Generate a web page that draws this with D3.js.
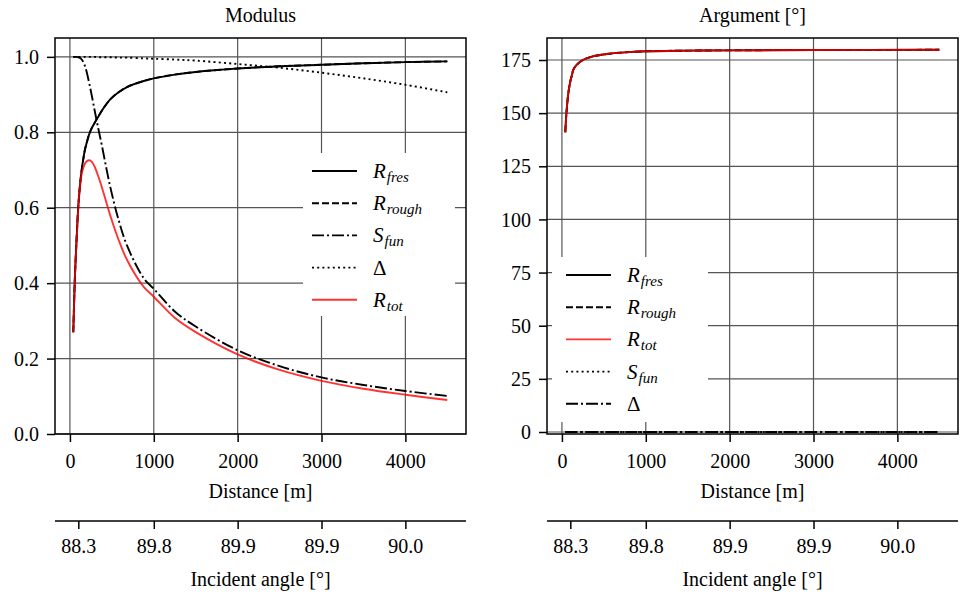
<!DOCTYPE html>
<html lang="en">
<head>
<meta charset="UTF-8">
<title>Modulus / Argument</title>
<script src="https://d3js.org/d3.v7.min.js"></script>
<style>
  body { margin: 0; background: #fff; }
  svg text { font-family: "Liberation Serif", "DejaVu Serif", "Noto Serif", "Times New Roman", Times, "FreeSerif", serif; fill: #000; }
  .tick text { font-size: 20px; }
  .tick line { stroke: #000; stroke-width: 1.5; }
  .grid line { stroke: #555; stroke-width: 1.2; }
</style>
</head>
<body>
<svg width="966" height="596"></svg>
<script>
// distances [m] where the curves were read
const dist = [40, 50, 60, 80, 100, 120, 140, 160, 180, 200, 230, 260, 300, 340, 380, 480, 580, 680, 880,
              1000, 1250, 1500, 2000, 2500, 3000, 3500, 4000, 4500];

// modulus
const rFres  = [0.27, 0.35, 0.42, 0.52, 0.605, 0.66, 0.70, 0.73, 0.755, 0.772, 0.795, 0.811, 0.827, 0.842, 0.857, 0.887, 0.906, 0.92, 0.936,
                0.943, 0.953, 0.96, 0.969, 0.975, 0.979, 0.983, 0.986, 0.988];
const rRough = [0.27, 0.35, 0.42, 0.52, 0.605, 0.66, 0.70, 0.73, 0.755, 0.772, 0.795, 0.811, 0.827, 0.842, 0.857, 0.887, 0.906, 0.92, 0.936,
                0.943, 0.953, 0.96, 0.969, 0.975, 0.979, 0.983, 0.986, 0.988];
const sFun   = [1.0, 1.0, 1.0, 1.0, 0.999, 0.997, 0.993, 0.986, 0.975, 0.96, 0.93, 0.898, 0.852, 0.808, 0.766, 0.656, 0.568, 0.50, 0.413,
                0.385, 0.325, 0.285, 0.222, 0.18, 0.15, 0.13, 0.114, 0.101];
const delta  = [1.0, 1.0, 1.0, 1.0, 1.0, 1.0, 1.0, 1.0, 1.0, 1.0, 1.0, 1.0, 1.0, 0.999, 0.999, 0.999, 0.998, 0.998, 0.996,
                0.995, 0.993, 0.99, 0.981, 0.971, 0.958, 0.943, 0.926, 0.906];
const rTot   = [0.27, 0.35, 0.42, 0.515, 0.60, 0.655, 0.69, 0.706, 0.717, 0.723, 0.726, 0.722, 0.706, 0.682, 0.655, 0.58, 0.515, 0.462, 0.39,
                0.364, 0.308, 0.27, 0.211, 0.17, 0.141, 0.12, 0.104, 0.09];

// argument [deg]
const distArg  = [40, 50, 60, 75, 96, 120, 135, 170, 250, 350, 534, 750, 1000, 1500, 2000, 3000, 4500];
const argFres  = [141, 148, 153, 159, 164.2, 168, 170.3, 172.5, 175, 176.5, 177.8, 178.6, 179.1, 179.4, 179.55, 179.7, 179.8];
const argRough = [141, 148, 153, 159, 164.2, 168, 170.3, 172.5, 175, 176.5, 177.8, 178.6, 179.1, 179.4, 179.55, 179.7, 179.8];
const argTot   = [141, 148, 153, 159, 164.2, 168, 170.3, 172.5, 175, 176.5, 177.8, 178.6, 179.1, 179.4, 179.55, 179.7, 179.8];
const argSFun  = [0, 0, 0, 0, 0, 0, 0, 0, 0, 0, 0, 0, 0, 0, 0, 0, 0];
const argDelta = [0, 0, 0, 0, 0, 0, 0, 0, 0, 0, 0, 0, 0, 0, 0, 0, 0];

// ticks
const distTicks = [0, 1000, 2000, 3000, 4000];
const modTicks = [0, 0.2, 0.4, 0.6, 0.8, 1.0];
const argTicks = [0, 25, 50, 75, 100, 125, 150, 175];
const angleTickDist = [100, 1000, 2000, 3000, 4000];
const angleLabels = ['88.3', '89.8', '89.9', '89.9', '90.0'];

const svg = d3.select('svg');
const yTop = 38, yBottom = 434, panelW = 411;

const styles = {
  solid:   { color: '#000', dash: null },
  dashed:  { color: '#000', dash: '7,3' },
  dashdot: { color: '#000', dash: '12,3,2,3' },
  dotted:  { color: '#000', dash: '2,3.2' },
  red:     { color: 'red',  dash: null, opacity: 0.8 }
};

function panel(opts) {
  const x = d3.scaleLinear().domain([-178, 4723]).range([opts.left, opts.left + panelW]);
  const y = d3.scaleLinear().domain(opts.yDomain).range([yBottom, yTop]);
  const g = svg.append('g');

  // grid
  const grid = g.append('g').attr('class', 'grid');
  grid.selectAll('.gx').data(distTicks).enter().append('line')
    .attr('x1', d => x(d)).attr('x2', d => x(d)).attr('y1', yTop).attr('y2', yBottom);
  grid.selectAll('.gy').data(opts.yTicks).enter().append('line')
    .attr('x1', opts.left).attr('x2', opts.left + panelW).attr('y1', d => y(d)).attr('y2', d => y(d));

  // curves
  opts.series.forEach(s => {
    const st = styles[s.style];
    const line = d3.line().x((d, i) => x(s.xs[i])).y(d => y(d)).curve(d3.curveCatmullRom.alpha(0.5));
    g.append('path').datum(s.values)
      .attr('d', line)
      .attr('fill', 'none')
      .attr('stroke', st.color)
      .attr('stroke-opacity', st.opacity || 1)
      .attr('stroke-width', 1.9)
      .attr('stroke-dasharray', st.dash);
  });

  // legend
  const lg = g.append('g');
  lg.append('rect').attr('x', opts.legend.x).attr('y', opts.legend.y)
    .attr('width', opts.legend.w).attr('height', opts.legend.h).attr('fill', '#fff');
  opts.series.forEach((s, i) => {
    const st = styles[s.style];
    const ry = opts.legend.y + 18 + i * 32.2;
    const lx = opts.legend.x + opts.legend.hx;
    lg.append('line').attr('x1', lx).attr('x2', lx + 45).attr('y1', ry).attr('y2', ry)
      .attr('stroke', st.color).attr('stroke-opacity', st.opacity || 1)
      .attr('stroke-width', 1.9).attr('stroke-dasharray', st.dash);
    const t = lg.append('text').attr('x', lx + 61).attr('y', ry + 7).attr('font-size', 21);
    t.append('tspan').attr('font-style', s.sub ? 'italic' : 'normal').text(s.main);
    if (s.sub) t.append('tspan').attr('font-style', 'italic').attr('font-size', 15)
      .attr('dx', 1).attr('dy', 4).text(s.sub);
  });

  // frame
  g.append('rect').attr('x', opts.left).attr('y', yTop).attr('width', panelW).attr('height', yBottom - yTop)
    .attr('fill', 'none').attr('stroke', '#000').attr('stroke-width', 1.5);

  // axes
  const ax = g.append('g').attr('transform', `translate(0,${yBottom})`)
    .call(d3.axisBottom(x).tickValues(distTicks).tickSize(8).tickFormat(d3.format('d')));
  ax.select('.domain').remove();
  ax.selectAll('.tick text').attr('y', 34).attr('dy', 0);

  const ay = g.append('g').attr('transform', `translate(${opts.left},0)`)
    .call(d3.axisLeft(y).tickValues(opts.yTicks).tickSize(8).tickFormat(opts.yFormat));
  ay.select('.domain').remove();
  ay.selectAll('.tick text').attr('x', -16).attr('dy', '0.33em');

  // secondary axis: incident angle
  const aa = g.append('g').attr('transform', 'translate(0,521)')
    .call(d3.axisBottom(x).tickValues(angleTickDist).tickSize(8).tickSizeOuter(0)
      .tickFormat((d, i) => angleLabels[i]));
  aa.select('.domain').attr('d', `M${opts.left},0H${opts.left + panelW}`).attr('stroke', '#000').attr('stroke-width', 1.5);
  aa.selectAll('.tick text').attr('y', 32).attr('dy', 0);

  const cx = opts.left + panelW / 2;
  g.append('text').attr('x', cx).attr('y', 22).attr('text-anchor', 'middle').attr('font-size', 20).text(opts.title);
  g.append('text').attr('x', cx).attr('y', 498).attr('text-anchor', 'middle').attr('font-size', 20).text('Distance [m]');
  g.append('text').attr('x', cx).attr('y', 586).attr('text-anchor', 'middle').attr('font-size', 20).text('Incident angle [°]');
}

panel({
  left: 55,
  title: 'Modulus',
  yDomain: [0, 1.05],
  yTicks: modTicks,
  yFormat: d3.format('.1f'),
  legend: { x: 303, y: 153, w: 152, h: 163, hx: 9 },
  series: [
    { xs: dist, values: rFres,  style: 'solid',   main: 'R', sub: 'fres' },
    { xs: dist, values: rRough, style: 'dashed',  main: 'R', sub: 'rough' },
    { xs: dist, values: sFun,   style: 'dashdot', main: 'S', sub: 'fun' },
    { xs: dist, values: delta,  style: 'dotted',  main: 'Δ' },
    { xs: dist, values: rTot,   style: 'red',     main: 'R', sub: 'tot' }
  ]
});

panel({
  left: 547,
  title: 'Argument [°]',
  yDomain: [-0.94, 185.35],
  yTicks: argTicks,
  yFormat: d3.format('d'),
  legend: { x: 552, y: 257, w: 156, h: 165, hx: 14 },
  series: [
    { xs: distArg, values: argFres,  style: 'solid',   main: 'R', sub: 'fres' },
    { xs: distArg, values: argRough, style: 'dashed',  main: 'R', sub: 'rough' },
    { xs: distArg, values: argTot,   style: 'red',     main: 'R', sub: 'tot' },
    { xs: distArg, values: argSFun,  style: 'dotted',  main: 'S', sub: 'fun' },
    { xs: distArg, values: argDelta, style: 'dashdot', main: 'Δ' }
  ]
});
</script>
</body>
</html>
